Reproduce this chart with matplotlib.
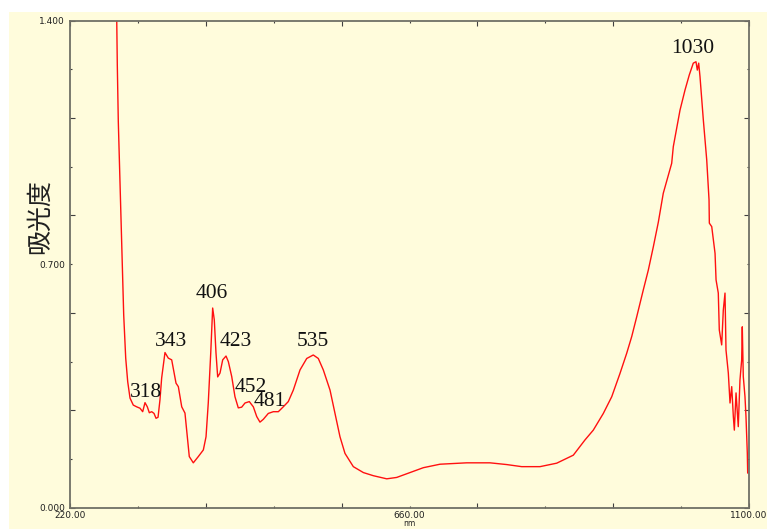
import matplotlib
matplotlib.use("Agg")
import matplotlib.pyplot as plt
from matplotlib.patches import Rectangle
from matplotlib.ticker import FixedLocator, FuncFormatter

# ---- data (wavelength nm, absorbance) ----
wavelength = [280.3, 281.3, 282.6, 284.4, 286.1, 287.8, 289.6, 292.2, 294.8, 297.8,
              302.0, 306.4, 310.7, 314.2, 317.2, 320.2, 322.8, 325.9, 328.9, 331.5,
              334.1, 336.6, 338.8, 343.1, 347.4, 351.8, 357.4, 360.4, 364.8, 369.0,
              372.0, 374.6, 379.8, 386.3, 392.8, 396.3, 399.2, 402.4, 404.9, 407.0,
              409.2, 411.4, 414.4, 417.9, 422.2, 425.2, 429.6, 433.8, 438.1, 442.5,
              446.8, 452.4, 457.6, 462.0, 466.2, 470.5, 477.0, 483.5, 490.0, 496.4,
              502.9, 509.4, 518.1, 526.8, 535.3, 541.8, 548.3, 557.0, 563.4, 569.9,
              576.4, 587.2, 600.2, 613.1, 630.5, 643.4, 660.7, 677.9, 699.5, 734.1,
              764.3, 786.0, 805.4, 829.1, 850.8, 872.3, 887.5, 898.2, 911.2, 922.1,
              932.8, 941.5, 948.0, 954.5, 963.0, 969.5, 976.0, 982.5, 988.9, 999.8,
              1001.9, 1010.6, 1017.1, 1022.6, 1027.8, 1031.3, 1033.0, 1034.8, 1036.5, 1040.8,
              1045.2, 1048.2, 1048.6, 1051.7, 1056.0, 1057.3, 1060.2, 1061.5, 1064.6, 1066.7,
              1068.9, 1070.2, 1073.2, 1075.4, 1077.6, 1079.7, 1081.0, 1083.2, 1086.1, 1088.3,
              1090.5, 1091.3, 1092.6, 1094.8, 1096.1, 1097.8, 1098.3]
absorbance = [1.450, 1.273, 1.110, 0.966, 0.822, 0.689, 0.554, 0.430, 0.362, 0.315,
              0.295, 0.290, 0.286, 0.276, 0.302, 0.290, 0.273, 0.276, 0.271, 0.257,
              0.260, 0.310, 0.373, 0.446, 0.430, 0.425, 0.358, 0.348, 0.290, 0.272,
              0.204, 0.147, 0.129, 0.147, 0.166, 0.204, 0.301, 0.445, 0.574, 0.540,
              0.445, 0.376, 0.387, 0.425, 0.436, 0.420, 0.377, 0.319, 0.287, 0.289,
              0.301, 0.305, 0.290, 0.262, 0.246, 0.254, 0.271, 0.276, 0.276, 0.290,
              0.305, 0.338, 0.396, 0.429, 0.439, 0.429, 0.396, 0.338, 0.271, 0.204,
              0.156, 0.118, 0.101, 0.092, 0.083, 0.087, 0.101, 0.115, 0.125, 0.129,
              0.129, 0.124, 0.118, 0.118, 0.128, 0.151, 0.195, 0.223, 0.271, 0.319,
              0.386, 0.444, 0.492, 0.549, 0.626, 0.683, 0.750, 0.821, 0.904, 0.990,
              1.038, 1.143, 1.201, 1.244, 1.278, 1.282, 1.258, 1.278, 1.239, 1.115,
              1.000, 0.885, 0.818, 0.808, 0.731, 0.655, 0.617, 0.511, 0.468, 0.568,
              0.617, 0.453, 0.387, 0.301, 0.348, 0.262, 0.223, 0.330, 0.233, 0.367,
              0.425, 0.520, 0.377, 0.319, 0.262, 0.157, 0.100]

peak_labels = ["318", "343", "406", "423", "452", "481", "535", "1030"]
peak_label_x = [318.8, 350.6, 404.0, 434.8, 453.9, 479.0, 534.5, 1026.5]
peak_label_y = [0.319, 0.465, 0.603, 0.465, 0.3335, 0.292, 0.465, 1.306]

x_label_ticks = [220, 660, 1100]
y_label_ticks = [0.0, 0.7, 1.4]

bg = "#FFFCDC"
spine_c = "#707066"

fig = plt.figure(figsize=(7.67, 5.29), dpi=100, facecolor="white")
fig.patches.append(Rectangle((9 / 767, 0), 1, 1 - 12 / 529, transform=fig.transFigure,
                             facecolor=bg, edgecolor="none", zorder=-10))

ax = fig.add_axes([70 / 767, 1 - 507.7 / 529, 679 / 767, 487 / 529])
ax.set_facecolor(bg)
ax.plot(wavelength, absorbance, color="#FF1010", lw=1.0)
ax.set_xlim(220, 1100)
ax.set_ylim(0, 1.4)

for s in ax.spines.values():
    s.set_color(spine_c)
    s.set_linewidth(1.3)

# x ticks
ax.xaxis.set_major_locator(FixedLocator([220 + 176 * k for k in range(6)]))
ax.xaxis.set_minor_locator(FixedLocator([308 + 176 * k for k in range(5)]))
fmt_x = FuncFormatter(lambda v, p: f"{v:.2f}" if any(abs(v - t) < 1e-6 for t in x_label_ticks) else "")
ax.xaxis.set_major_formatter(fmt_x)
ax.xaxis.set_minor_formatter(fmt_x)
# y ticks
ax.yaxis.set_major_locator(FixedLocator([0.28 * k for k in range(6)]))
ax.yaxis.set_minor_locator(FixedLocator([0.14 + 0.28 * k for k in range(5)]))
fmt_y = FuncFormatter(lambda v, p: f"{v:.3f}" if any(abs(v - t) < 1e-6 for t in y_label_ticks) else "")
ax.yaxis.set_major_formatter(fmt_y)
ax.yaxis.set_minor_formatter(fmt_y)

ax.tick_params(which="both", direction="in", top=True, right=True, color="#404040",
               labelsize=6.5, labelcolor="#202020", width=0.8)
ax.tick_params(which="major", length=3.5)
ax.tick_params(which="minor", length=1.5)
ax.tick_params(axis="y", which="both", pad=3.5)
ax.tick_params(axis="x", which="both", pad=2.5)

fig.text(409.5 / 767, 1 - 528.3 / 529, "nm", ha="center", va="bottom", fontsize=5.5, color="#202020")

fig.text(40 / 767, 1 - 216.7 / 529, "吸光度", rotation=90, ha="center", va="center",
         fontsize=18, family=["Noto Sans CJK JP", "DejaVu Sans"], color="#202020")

for t, x, y in zip(peak_labels, peak_label_x, peak_label_y):
    ax.text(x, y, t, ha="center", va="baseline", fontsize=15.5,
            family=["Liberation Serif", "DejaVu Serif"], color="#111111")

fig.savefig("out.png", dpi=100, facecolor="white")
